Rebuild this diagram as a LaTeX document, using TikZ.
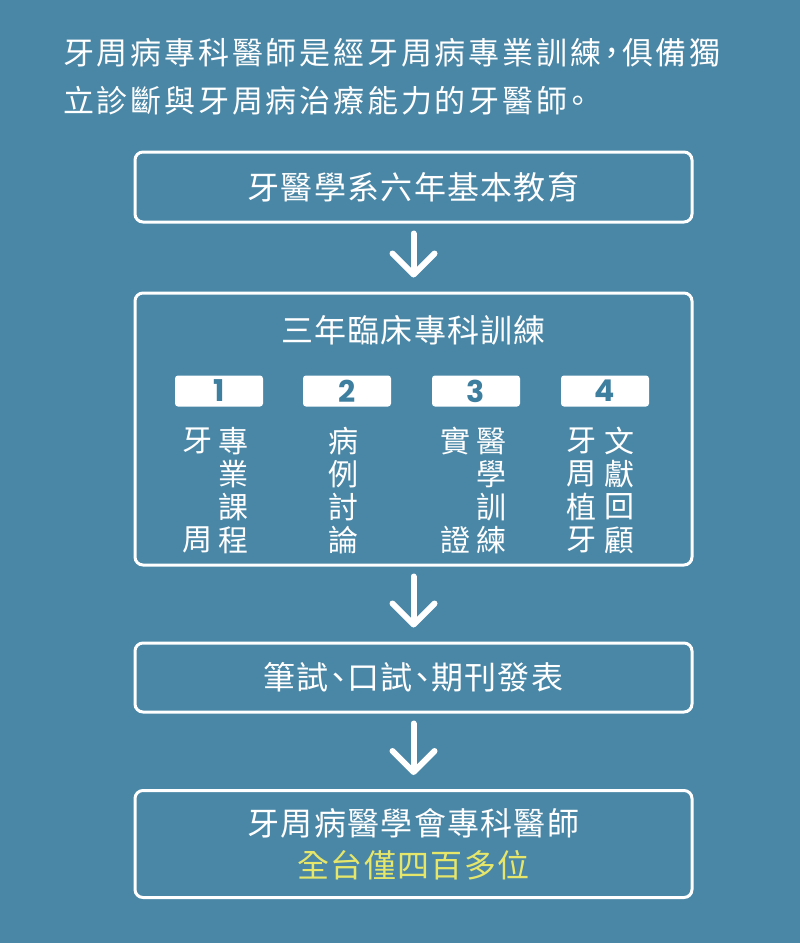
\documentclass[tikz,border=0pt]{standalone}
\usepackage{fontspec}
\newfontfamily\cjk{Noto Sans CJK TC}[RawFeature=+halt]
\newfontfamily\cjkbox{Noto Sans CJK TC}[LetterSpace=4, RawFeature=+halt]
\newfontfamily\cjkintro{Noto Sans CJK TC}[LetterSpace=9, RawFeature=+halt]
\newfontfamily\numfont{Poppins}
\usepackage{tikz}
\usetikzlibrary{
    arrows.meta,         % For arrow tips
    positioning          % For relative placement
}
\definecolor{bgblue}{HTML}{4A87A6}
\definecolor{tabblue}{HTML}{3E7E9E}
\definecolor{hiyellow}{HTML}{E6E66A}

\begin{document}
\begin{tikzpicture}[
    x=1pt, y=-1pt, % Work in pixel-like units, y going down
    stagebox/.style={
        draw=white, line width=3pt, rounded corners=8pt,
        minimum width=557pt, text=white, align=center,
        font=\cjkbox\fontsize{32}{42}\selectfont
    },
    titletext/.style={text=white, font=\cjkbox\fontsize{32}{42}\selectfont},
    introtext/.style={text=white, anchor=west, inner sep=0pt, font=\cjkintro\fontsize{31}{40}\selectfont},
    numtab/.style={
        fill=white, rounded corners=3pt, minimum width=88pt, minimum height=31pt,
        inner sep=0pt, text=tabblue, font=\numfont\bfseries\fontsize{30}{30}\selectfont
    },
    colchar/.style={text=white, inner sep=0pt, font=\cjk\fontsize{30}{32}\selectfont},
    flowarrow/.style={
        draw=white, line width=6pt, line cap=round,
        -{Straight Barb[length=21pt, width=42pt, line cap=round, line join=round]},
        shorten <=10pt, shorten >=14pt
    }
]

    % Background and page size
    \fill[bgblue] (0,0) rectangle (800,943);
    \useasboundingbox (0,0) rectangle (800,943);

    % Intro text at the top
    \node[introtext] (intro1) at (63,53) {牙周病專科醫師是經牙周病專業訓練，俱備獨};
    \node[introtext] (intro2) at (63,101) {立診斷與牙周病治療能力的牙醫師。};

    % The four stages
    \node[stagebox, minimum height=70pt] (school) at (413.5,187) {牙醫學系六年基本教育};
    \node[stagebox, minimum height=272pt] (clinic) at (413.5,429) {};
    \node[stagebox, minimum height=69pt] (exam) at (413.5,677.5) {筆試、口試、期刊發表};
    \node[stagebox, minimum height=107pt] (member) at (413.5,844)
        {牙周病醫學會專科醫師\\{\color{hiyellow}全台僅四百多位}};

    % Title of the clinical training box
    \node[titletext] (clinictitle) at (413.5,330) {三年臨床專科訓練};

    % Number tabs
    \foreach \n/\x in {1/219, 2/347, 3/476, 4/605}
        \node[numtab] (tab\n) at (\x,391) {\n};

    % Column characters (rows at 441, 474, 507, 540)
    \foreach \ch/\x/\y [count=\i] in {
        牙/197/441, 專/233/441, 業/233/474, 課/233/507, 周/197/540, 程/233/540,
        病/343/441, 例/343/474, 討/343/507, 論/343/540,
        實/455/441, 醫/491/441, 學/491/474, 訓/491/507, 證/455/540, 練/491/540,
        牙/581/441, 文/619/441, 周/581/474, 獻/619/474,
        植/581/507, 回/619/507, 牙/581/540, 顧/619/540}
        \node[colchar] (ch\i) at (\x,\y) {\ch};

    % Arrows between the stages
    \draw[flowarrow] (school.south) -- (clinic.north);
    \draw[flowarrow] (clinic.south) -- (exam.north);
    \draw[flowarrow] (exam.south) -- (member.north);

\end{tikzpicture}
\end{document}
